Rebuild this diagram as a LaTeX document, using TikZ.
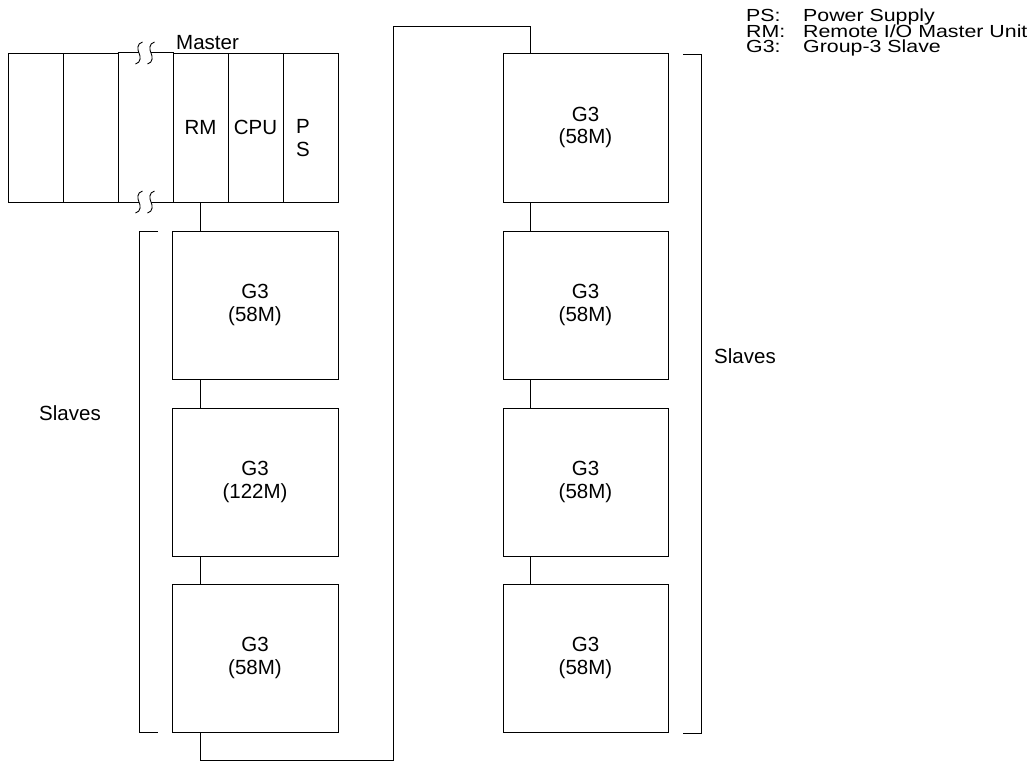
\documentclass[tikz,border=0pt]{standalone}
\usepackage{fontspec}
\setmainfont{Liberation Sans}
\newfontfamily\legendfont[FakeStretch=1.22]{Liberation Sans}
\begin{document}
\begin{tikzpicture}[x=1pt,y=-1pt,
  ln/.style={line width=1pt,draw=black},
  txt/.style={font=\fontsize{20.5}{23}\selectfont,inner sep=0pt},
  leg/.style={font=\legendfont\fontsize{17.5}{20}\selectfont,inner sep=0pt,anchor=base west},
  mod/.style={ln,minimum width=55pt,minimum height=149pt,inner sep=0pt,anchor=center,font=\fontsize{20.5}{23}\selectfont,align=center},
  slave/.style={ln,minimum width=166pt,minimum height=148pt,inner sep=0pt,font=\fontsize{20.5}{22.5}\selectfont,align=center}]
\useasboundingbox (0,0) rectangle (1032,761);
\fill[white] (0,0) rectangle (1032,761);
% rack
\node[mod] (m1) at (35.5,127.5) {};
\node[mod] (m2) at (90.5,127.5) {};
\node[mod,draw=none] (m3) at (145.5,127.5) {};
\node[mod] (rm) at (200.5,127.5) {RM};
\node[mod] (cpu) at (255.5,127.5) {CPU};
\node[mod] (ps) at (310.5,127.5) {};
\node[txt,align=center] (pslab) at (303,138.5) {P\\S};
\coordinate (bk1) at (139,0);
\coordinate (bk2) at (151,0);
\draw[ln] (m3.north west) -- (m3.north west -| bk1);
\draw[ln] (m3.north west -| bk2) -- (m3.north east);
\draw[ln] (m3.south west) -- (m3.south west -| bk1);
\draw[ln] (m3.south west -| bk2) -- (m3.south east);
\foreach \yy in {53,202}{
  \foreach \xx in {139,151}{
    \draw[line width=0.9pt] (\xx+3.5,\yy-11) .. controls (\xx-2.5,\yy-9.5) and (\xx-1.5,\yy-3) .. (\xx,\yy)
      .. controls (\xx+1.5,\yy+3) and (\xx+2.5,\yy+9.5) .. (\xx-3.5,\yy+11);
  }
}
\node[txt,anchor=base west] (master) at (176,49) {Master};
% left column
\node[slave] (l1) at (255,305) {G3\\(58M)};
\node[slave] (l2) at (255,482) {G3\\(122M)};
\node[slave] (l3) at (255,658) {G3\\(58M)};
% right column
\node[slave,minimum width=165pt,minimum height=149pt] (r1) at (585.5,127.5) {G3\\(58M)};
\node[slave,minimum width=165pt] (r2) at (585.5,305) {G3\\(58M)};
\node[slave,minimum width=165pt] (r3) at (585.5,482) {G3\\(58M)};
\node[slave,minimum width=165pt] (r4) at (585.5,658) {G3\\(58M)};
% wires
\coordinate (wx) at (200,0);
\coordinate (wy) at (530,0);
\coordinate (b1) at (393,760);
\coordinate (t1) at (530,26);
\draw[ln] (rm.south -| wx) -- (l1.north -| wx);
\draw[ln] (l1.south -| wx) -- (l2.north -| wx);
\draw[ln] (l2.south -| wx) -- (l3.north -| wx);
\draw[ln] (l3.south -| wx) |- (b1) |- (t1) -- (r1.north -| wy);
\draw[ln] (r1.south -| wy) -- (r2.north -| wy);
\draw[ln] (r2.south -| wy) -- (r3.north -| wy);
\draw[ln] (r3.south -| wy) -- (r4.north -| wy);
% brackets
\coordinate (lb1) at (158,231);
\coordinate (lb2) at (158,732);
\draw[ln] (lb1) -- (139,231) -- (139,732) -- (lb2);
\coordinate (rb1) at (683,54);
\coordinate (rb2) at (683,733);
\draw[ln] (rb1) -- (701,54) -- (701,733) -- (rb2);
\node[txt] (sl) at (70,413) {Slaves};
\node[txt] (sr) at (745,356) {Slaves};
% legend
\node[leg] (k1) at (746,21.5) {PS:};
\node[leg] (v1) at (803,21.5) {Power Supply};
\node[leg] (k2) at (746,37) {RM:};
\node[leg] (v2) at (803,37) {Remote I/O Master Unit};
\node[leg] (k3) at (746,52.5) {G3:};
\node[leg] (v3) at (803,52.5) {Group-3 Slave};
\end{tikzpicture}
\end{document}
